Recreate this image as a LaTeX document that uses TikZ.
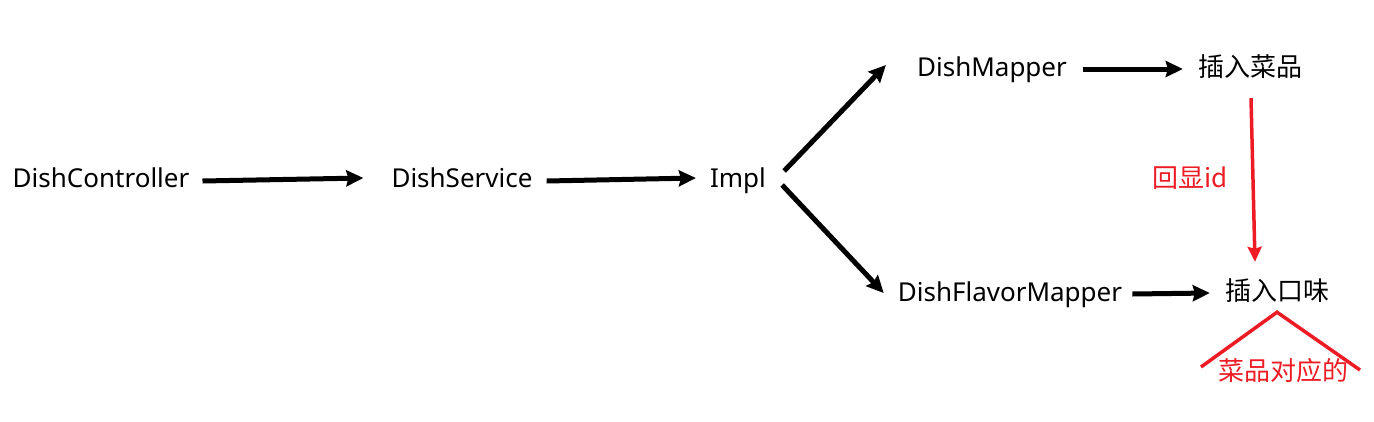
\documentclass[tikz,border=0pt]{standalone}
\usepackage{fontspec}
\setmainfont{Noto Sans}
\newfontfamily\cjk{Noto Sans CJK SC}
\usepackage{tikz}
\usetikzlibrary{arrows.meta,calc}

\definecolor{notered}{RGB}{237,28,36}

\begin{document}
\begin{tikzpicture}[x=1pt, y=-1pt, >={Stealth[length=17pt,width=16pt,inset=2pt]},
    every node/.style={inner sep=0pt, text height=20pt, text depth=6pt,
        font=\fontsize{26}{30}\selectfont},
    flow/.style={->, line width=5pt},
    note/.style={notered, line width=3.5pt}]
    \useasboundingbox (0,0) rectangle (1374,421);

    \node (ctrl) at (101,180) {DishController};
    \node (svc) at (462,180) {DishService};
    \node (impl) at (738,180) {Impl};
    \node (mapper) at (992,69) {DishMapper};
    \node (dishins) at (1250,69) {\cjk 插入菜品};
    \node (flavor) at (1010,294) {DishFlavorMapper};
    \node (flavorins) at (1277,293) {\cjk 插入口味};
    \node[text=notered] (echo) at (1190,180) {\cjk 回显id};
    \node[text=notered] (match) at (1283,373) {\cjk 菜品对应的};

    \draw[flow] ([shift={(13,1)}]ctrl.east) -- ([shift={(-28,-2)}]svc.west);
    \draw[flow] ([shift={(14,1)}]svc.east) -- ([shift={(-14,-2)}]impl.west);
    \draw[flow] ([shift={(18,-9)}]impl.east) -- ([shift={(-31,-4)}]mapper.west);
    \draw[flow] ([shift={(16,5)}]impl.east) -- ([shift={(-14,-1)}]flavor.west);
    \draw[flow] ([xshift=16pt]mapper.east) -- ([xshift=-15pt]dishins.west);
    \draw[flow] ([xshift=10pt]flavor.east) -- ([xshift=-15pt]flavorins.west);

    % red notes
    \draw[note, ->, >={Stealth[length=15pt,width=14pt,inset=2pt]}]
        ([shift={(1,16)}]dishins.south) -- ([shift={(-22,-18)}]flavorins.north);
    \coordinate (apex) at ([yshift=-6pt]flavorins.south);
    \coordinate (leftend) at (1201,367);
    \coordinate (rightend) at (1360,370);
    \draw[note] (leftend) -- (apex) -- (rightend);
\end{tikzpicture}
\end{document}
